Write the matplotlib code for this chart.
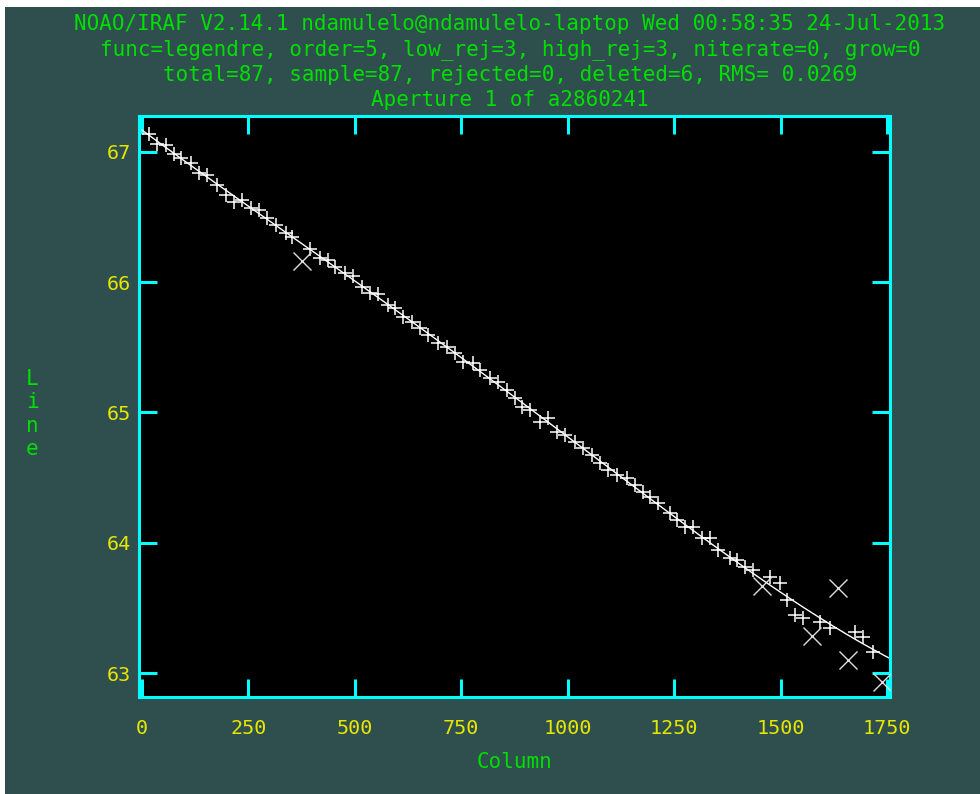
import numpy as np
import matplotlib
matplotlib.use("Agg")
import matplotlib.pyplot as plt
from matplotlib.patches import Rectangle

# points used in the fit (plotted as +)
col = [16, 35, 56, 75, 92, 115, 134, 153, 176, 197, 216, 235, 256, 275, 294, 315, 338, 352,
       395, 418, 437, 453, 477, 496, 517, 536, 554, 578, 594, 613, 634, 653, 672, 695, 716,
       735, 754, 778, 794, 817, 836, 857, 876, 893, 911, 935, 954, 975, 994, 1017, 1036, 1057,
       1076, 1095, 1116, 1139, 1158, 1177, 1193, 1212, 1240, 1257, 1276, 1294, 1315, 1334,
       1353, 1381, 1398, 1416, 1435, 1475, 1499, 1515, 1534, 1553, 1593, 1616, 1675, 1694, 1717]
line = [67.138, 67.061, 67.054, 66.985, 66.954, 66.916, 66.839, 66.823, 66.747, 66.670,
        66.616, 66.631, 66.570, 66.555, 66.493, 66.440, 66.378, 66.347,
        66.255, 66.186, 66.171, 66.117, 66.071, 66.048, 65.964, 65.917, 65.910, 65.825,
        65.802, 65.733, 65.695, 65.649, 65.595, 65.534, 65.503,
        65.457, 65.388, 65.380, 65.326, 65.265, 65.234, 65.173, 65.111, 65.042, 65.019,
        64.927, 64.958, 64.850, 64.827, 64.774, 64.727, 64.674,
        64.612, 64.558, 64.520, 64.497, 64.443, 64.390, 64.351, 64.305, 64.228, 64.175,
        64.121, 64.121, 64.036, 64.036,
        63.944, 63.883, 63.868, 63.814, 63.791, 63.737, 63.691, 63.560, 63.445, 63.422,
        63.391, 63.345, 63.315, 63.276, 63.161]

# deleted points (plotted as x)
del_col = [376, 1456, 1574, 1635, 1658, 1738]
del_line = [66.163, 63.668, 63.284, 63.653, 63.100, 62.931]

xticks = [0, 250, 500, 750, 1000, 1250, 1500, 1750]
yticks = [63, 64, 65, 66, 67]

title_lines = [
    "NOAO/IRAF V2.14.1 ndamulelo@ndamulelo-laptop Wed 00:58:35 24-Jul-2013",
    "func=legendre, order=5, low_rej=3, high_rej=3, niterate=0, grow=0",
    "total=87, sample=87, rejected=0, deleted=6, RMS= 0.0269",
    "Aperture 1 of a2860241",
]

slate = "#2f4f4f"
cyan = "#00ffff"
yellow = "#e6e600"
green = "#00e000"
mono = "DejaVu Sans Mono"

fig = plt.figure(figsize=(9.8, 7.94), dpi=100, facecolor="white")
fig.patches.append(Rectangle((5 / 980, 0), 1, 1 - 7 / 794, transform=fig.transFigure,
                             facecolor=slate, edgecolor="none", zorder=-10))

ax = fig.add_axes([139 / 980, 97 / 794, 751 / 980, 581 / 794])
ax.set_facecolor("black")

xmin, xmax = -7, 1757
ax.set_xlim(xmin, xmax)
ax.set_ylim(62.816, 67.276)

# legendre fit, order 5 = 5 coefficients
fit = np.polynomial.Legendre.fit(col, line, 4, domain=[xmin, xmax])
xx = np.linspace(xmin, xmax, 400)
ax.plot(xx, fit(xx), color="white", lw=1.0, zorder=2)

ax.plot(col, line, ls="none", marker="+", ms=10, mew=1.1, color="white", zorder=3)
ax.plot(del_col, del_line, ls="none", marker="x", ms=13, mew=1.0, color="#dddddd", zorder=3)

for s in ax.spines.values():
    s.set_color(cyan)
    s.set_linewidth(2.2)

ax.set_xticks(xticks)
ax.set_yticks(yticks)
ax.tick_params(which="both", direction="in", length=13, width=2.2, color=cyan,
               top=True, right=True, labelcolor=yellow, labelsize=14.5)
ax.tick_params(axis="x", pad=16)
ax.tick_params(axis="y", pad=6)
for lab in ax.get_xticklabels() + ax.get_yticklabels():
    lab.set_family(mono)

ys = [24, 50, 75, 100]
for t, y in zip(title_lines, ys):
    fig.text(510 / 980, 1 - y / 794, t, ha="center", va="center", color=green,
             fontsize=15, family=mono)

fig.text(515 / 980, 1 - 762 / 794, "Column", ha="center", va="center", color=green,
         fontsize=15, family=mono)
fig.text(32 / 980, 1 - 414 / 794, "L\ni\nn\ne", ha="center", va="center", color=green,
         fontsize=15, family=mono, linespacing=1.2)

fig.savefig("out.png", dpi=100, facecolor=fig.get_facecolor())
